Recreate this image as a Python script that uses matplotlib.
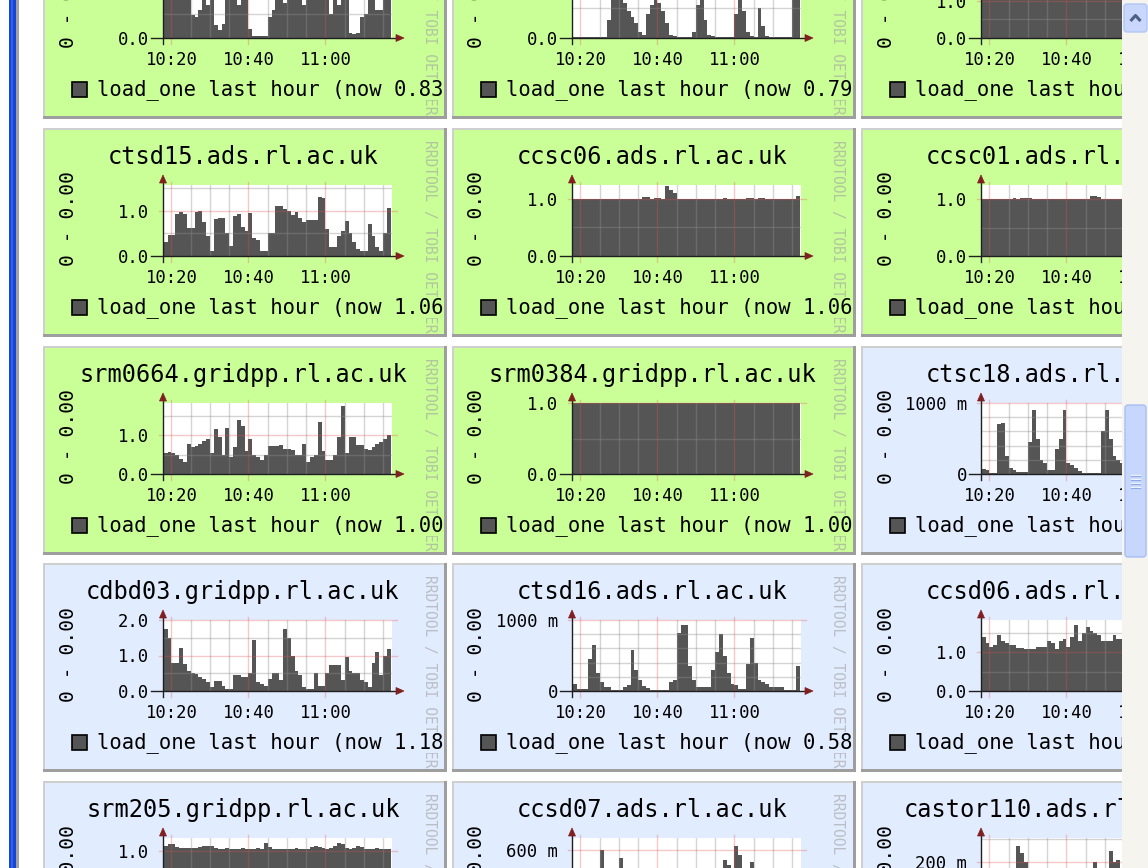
import numpy as np
import matplotlib
matplotlib.use("Agg")
import matplotlib.pyplot as plt
from matplotlib.patches import Rectangle, Polygon, FancyBboxPatch

plt.rcParams['font.family'] = ['DejaVu Sans Mono', 'DejaVu Sans']

# ---------------- data ----------------
minutes = list(range(18, 77))          # sample start times, minutes past 10:00
x_major = [20, 40, 60]
x_major_labels = ["10:20", "10:40", "11:00"]
x_minor = [25, 30, 35, 45, 50, 55, 65, 70, 75]

top_a = [1.20, 1.10,
         1.30, 1.00, 1.20, 1.10, 0.95, 0.49, 0.45, 0.59, 1.10, 0.70,
         1.00, 0.27, 0.17, 0.30, 1.10, 1.30, 1.00, 0.70, 1.20, 1.00,
         0.20, 0.05, 0.04, 0.04, 0.05, 0.45, 0.60, 1.20, 1.00, 0.75,
         1.10, 1.30, 1.00, 1.10, 0.70, 1.10, 1.30, 1.00, 0.95, 1.20,
         1.10, 0.50, 1.00, 0.70, 0.95, 1.20, 0.10, 0.08, 0.10, 0.45,
         0.50, 1.10, 1.20, 0.60, 0.60, 1.20, 1.10]
top_b = [0.02, 0.02,
         0.02, 0.02, 0.02, 0.02, 0.02, 0.02, 0.02, 0.30, 0.90, 0.95,
         0.90, 0.60, 0.45, 0.35, 0.25, 0.10, 0.05, 0.40, 0.55, 0.75,
         0.60, 0.45, 0.25, 0.05, 0.03, 0.02, 0.02, 0.02, 0.02, 0.10,
         0.55, 0.70, 0.30, 0.05, 0.03, 0.02, 0.02, 0.02, 0.02, 0.02,
         0.40, 0.75, 0.45, 0.10, 0.03, 0.02, 0.50, 0.20, 0.03, 0.02,
         0.02, 0.02, 0.02, 0.02, 0.02, 0.80, 0.80]
top_c = [1.20, 1.25,
         1.20, 1.15, 1.20, 1.25, 1.20, 1.18, 1.22, 1.20, 1.15, 1.20,
         1.25, 1.20, 1.18, 1.20, 1.22, 1.20, 1.15, 1.20, 1.25, 1.20,
         1.20, 1.18, 1.20, 1.25, 1.20, 1.15, 1.20, 1.22, 1.20, 1.18,
         1.20, 1.25, 1.20, 1.15, 1.20, 1.22, 1.20, 1.18, 1.20, 1.25,
         1.20, 1.15, 1.20, 1.22, 1.20, 1.18, 1.20, 1.25, 1.20, 1.15,
         1.20, 1.22, 1.20, 1.18, 1.20, 1.25, 1.20]
ctsd15 = [0.30, 0.47,
          0.47, 0.92, 0.97, 0.93, 0.63, 0.63, 0.98, 1.00, 0.75, 0.45,
          0.10, 0.82, 0.83, 0.83, 0.50, 0.22, 0.88, 0.92, 0.65, 0.55,
          0.95, 0.40, 0.35, 0.10, 0.10, 0.50, 0.50, 1.10, 1.10, 1.05,
          1.00, 0.90, 0.97, 0.85, 0.75, 0.80, 0.80, 0.80, 1.30, 1.28,
          0.60, 0.20, 0.20, 0.45, 0.55, 0.78, 0.50, 0.30, 0.15, 0.10,
          0.10, 0.70, 0.45, 0.20, 0.10, 0.50, 1.06]
ccsc06 = [1.00, 1.00,
          1.00, 1.00, 1.00, 1.00, 1.00, 1.00, 1.00, 1.00, 1.00, 1.00,
          1.00, 1.00, 1.00, 1.00, 1.00, 1.00, 1.04, 1.03, 1.00, 1.02,
          1.02, 1.00, 1.22, 1.15, 1.10, 1.00, 1.00, 1.00, 1.00, 1.00,
          1.00, 1.00, 1.00, 1.00, 1.00, 1.00, 1.00, 1.02, 1.00, 1.00,
          1.00, 1.00, 1.00, 1.02, 1.02, 1.00, 1.02, 1.02, 1.00, 1.00,
          1.00, 1.00, 1.00, 1.00, 1.00, 1.00, 1.06]
ccsc01 = [1.00, 1.00,
          1.00, 1.00, 1.00, 1.00, 1.00, 1.00, 1.02, 1.00, 1.02, 1.02,
          1.02, 1.00, 1.00, 1.00, 1.00, 1.00, 1.00, 1.00, 1.00, 1.00,
          1.00, 1.00, 1.00, 1.00, 1.00, 1.00, 1.06, 1.06, 1.04, 1.00,
          1.00, 1.00, 1.00, 1.00, 1.00, 1.00, 1.00, 1.00, 1.00, 1.00,
          1.00, 1.00, 1.02, 1.00, 1.00, 1.00, 1.00, 1.02, 1.00, 1.00,
          1.00, 1.00, 1.00, 1.00, 1.00, 1.00, 1.00]
srm0664 = [0.55, 0.57,
           0.55, 0.50, 0.38, 0.32, 0.78, 0.70, 0.72, 0.78, 0.85, 0.92,
           0.55, 1.17, 0.95, 0.50, 1.20, 0.45, 0.70, 1.40, 1.25, 0.60,
           0.92, 0.50, 0.45, 0.35, 0.50, 0.73, 0.73, 0.73, 0.75, 0.65,
           0.65, 0.62, 0.50, 0.50, 0.78, 0.30, 0.45, 0.50, 1.35, 0.60,
           0.35, 0.35, 0.50, 0.95, 1.75, 0.55, 0.95, 0.95, 0.75, 0.75,
           0.65, 0.62, 0.70, 0.78, 0.82, 0.90, 1.00]
srm0384 = [1.00, 1.00,
           1.00, 1.00, 1.00, 1.00, 1.00, 1.00, 1.00, 1.00, 1.00, 1.00,
           1.00, 1.00, 1.00, 1.00, 1.00, 1.00, 1.00, 1.00, 1.00, 1.00,
           1.00, 1.00, 1.00, 1.00, 1.00, 1.00, 1.00, 1.00, 1.00, 1.00,
           1.00, 1.00, 1.00, 1.00, 1.00, 1.00, 1.00, 1.00, 1.00, 1.00,
           1.00, 1.00, 1.00, 1.00, 1.00, 1.00, 1.00, 1.00, 1.00, 1.00,
           1.00, 1.00, 1.00, 1.00, 1.00, 1.00, 1.00]
ctsc18 = [0.07, 0.05,
          0.02, 0.02, 0.70, 0.72, 0.25, 0.08, 0.05, 0.03, 0.03, 0.03,
          0.45, 0.90, 0.50, 0.20, 0.15, 0.05, 0.05, 0.35, 0.50, 0.90,
          0.15, 0.12, 0.08, 0.04, 0.01, 0.01, 0.01, 0.01, 0.01, 0.60,
          0.90, 0.50, 0.25, 0.20, 0.15, 0.08, 0.05, 0.03, 0.03, 0.40,
          0.85, 0.30, 0.15, 0.08, 0.04, 0.02, 0.02, 0.50, 0.80, 0.30,
          0.15, 0.08, 0.04, 0.02, 0.02, 0.02, 0.30]
cdbd03 = [1.75, 1.50,
          0.80, 0.78, 1.20, 0.75, 0.55, 0.52, 0.48, 0.40, 0.35, 0.25,
          0.12, 0.28, 0.28, 0.15, 0.06, 0.05, 0.45, 0.45, 0.40, 0.40,
          0.50, 1.45, 0.25, 0.20, 0.15, 0.35, 0.50, 0.50, 0.30, 1.75,
          1.50, 1.00, 0.55, 0.45, 0.10, 0.05, 0.05, 0.50, 0.15, 0.15,
          0.50, 0.72, 0.72, 0.72, 0.30, 0.95, 0.55, 0.50, 0.50, 0.30,
          0.25, 0.10, 0.80, 1.10, 0.45, 1.00, 1.18]
ctsd16 = [0.10, 0.03,
          0.03, 0.03, 0.45, 0.65, 0.25, 0.12, 0.05, 0.05, 0.02, 0.02,
          0.02, 0.06, 0.08, 0.58, 0.30, 0.15, 0.07, 0.04, 0.02, 0.02,
          0.01, 0.01, 0.01, 0.12, 0.15, 0.82, 0.93, 0.93, 0.35, 0.15,
          0.05, 0.05, 0.05, 0.05, 0.30, 0.55, 0.80, 0.50, 0.25, 0.10,
          0.08, 0.03, 0.03, 0.38, 0.75, 0.40, 0.15, 0.12, 0.10, 0.05,
          0.05, 0.05, 0.05, 0.01, 0.01, 0.01, 0.35]
ccsd06 = [1.40, 1.25,
          1.15, 1.20, 1.45, 1.30, 1.25, 1.20, 1.18, 1.12, 1.12, 1.10,
          1.10, 1.10, 1.15, 1.15, 1.15, 1.30, 1.25, 1.10, 1.30, 1.35,
          1.15, 1.40, 1.70, 1.30, 1.50, 1.65, 1.55, 1.50, 1.45, 1.30,
          1.30, 1.30, 1.45, 1.35, 1.35, 1.30, 1.28, 1.25, 1.30, 1.25,
          1.20, 1.25, 1.30, 1.20, 1.25, 1.20, 1.30, 1.25, 1.20, 1.25,
          1.30, 1.20, 1.25, 1.30, 1.20, 1.25, 1.30]
srm205 = [1.10, 1.12,
          1.12, 1.08, 1.05, 1.05, 1.06, 1.05, 1.05, 1.08, 1.10, 1.09,
          1.10, 1.05, 1.04, 1.04, 1.05, 1.04, 1.04, 1.04, 1.05, 1.04,
          1.04, 1.04, 1.05, 1.04, 1.14, 1.08, 1.04, 1.04, 1.04, 1.04,
          1.04, 1.04, 1.05, 1.04, 1.04, 1.04, 1.08, 1.10, 1.07, 1.05,
          1.04, 1.05, 1.10, 1.15, 1.12, 1.06, 1.04, 1.05, 1.09, 1.07,
          1.04, 1.04, 1.04, 1.05, 1.04, 1.04, 1.04]
ccsd07 = [0.20, 0.15,
          0.20, 0.25, 0.15, 0.30, 0.20, 0.60, 0.35, 0.20, 0.15, 0.30,
          0.52, 0.20, 0.15, 0.20, 0.25, 0.15, 0.20, 0.15, 0.20, 0.25,
          0.20, 0.15, 0.20, 0.15, 0.25, 0.20, 0.15, 0.20, 0.25, 0.20,
          0.15, 0.20, 0.25, 0.20, 0.15, 0.20, 0.30, 0.50, 0.45, 0.30,
          0.65, 0.55, 0.30, 0.25, 0.48, 0.20, 0.15, 0.20, 0.25, 0.20,
          0.15, 0.20, 0.25, 0.20, 0.15, 0.20, 0.25]
castor110 = [0.10, 0.08,
             0.10, 0.12, 0.08, 0.10, 0.12, 0.10, 0.08, 0.27, 0.24, 0.20,
             0.10, 0.08, 0.10, 0.12, 0.08, 0.10, 0.12, 0.10, 0.08, 0.10,
             0.12, 0.10, 0.08, 0.10, 0.12, 0.10, 0.15, 0.20, 0.10, 0.08,
             0.12, 0.25, 0.20, 0.21, 0.10, 0.08, 0.10, 0.12, 0.10, 0.08,
             0.10, 0.12, 0.10, 0.08, 0.10, 0.12, 0.10, 0.08, 0.10, 0.12,
             0.10, 0.08, 0.10, 0.12, 0.10, 0.08, 0.10]

grid_titles = [["", "", ""],
               ["ctsd15.ads.rl.ac.uk", "ccsc06.ads.rl.ac.uk", "ccsc01.ads.rl.ac.uk"],
               ["srm0664.gridpp.rl.ac.uk", "srm0384.gridpp.rl.ac.uk", "ctsc18.ads.rl.ac.uk"],
               ["cdbd03.gridpp.rl.ac.uk", "ctsd16.ads.rl.ac.uk", "ccsd06.ads.rl.ac.uk"],
               ["srm205.gridpp.rl.ac.uk", "ccsd07.ads.rl.ac.uk", "castor110.ads.rl.ac.uk"]]
grid_values = [[top_a, top_b, top_c],
               [ctsd15, ccsc06, ccsc01],
               [srm0664, srm0384, ctsc18],
               [cdbd03, ctsd16, ccsd06],
               [srm205, ccsd07, castor110]]
grid_now = [["0.83", "0.79", "1.00"],
            ["1.06", "1.06", "1.00"],
            ["1.00", "1.00", "0.30"],
            ["1.18", "0.58", "1.30"],
            ["", "", ""]]
grid_ymax = [[1.5, 1.2, 1.9],
             [1.57, 1.244, 1.25],
             [1.84, 1.0, 1.0],
             [2.0, 1.0, 1.84],
             [1.23, 0.727, 0.304]]
grid_scale = [["std", "std", "std"],
              ["std", "std", "std"],
              ["std", "std", "1000m"],
              ["two", "1000m", "std"],
              ["std", "600m", "200m"]]
grid_bg = [["g", "g", "g"], ["g", "g", "g"], ["g", "g", "b"], ["b", "b", "b"], ["b", "b", "b"]]

y_scales = {"std": ([0.0, 1.0], ["0.0", "1.0"], 0.5),
            "two": ([0.0, 1.0, 2.0], ["0.0", "1.0", "2.0"], 0.5),
            "1000m": ([0.0, 1.0], ["0", "1000 m"], 0.2),
            "600m": ([0.0, 0.6], ["0", "600 m"], 0.2),
            "200m": ([0.0, 0.2], ["0", "200 m"], 0.1)}

legend_label = "load_one last hour (now {}"
y_side_label = "0 - 0.00"
watermark = "RRDTOOL / TOBI OETIKER"

# ---------------- styling ----------------
W, H = 1148, 868
BG = {"g": "#caff98", "b": "#e2ecff"}
FILL = "#555555"
MINOR = (0.56, 0.56, 0.56)
MAJOR = (0.87, 0.31, 0.31)
ARROW = "#801f1f"
AXIS = "#1f1f1f"
col_x = [43, 452, 861]
row_y = [-90, 128, 346, 563, 781]
PW, PH = 404, 209
PL, PT, PWID, PHGT = 120, 57, 229, 71

fig = plt.figure(figsize=(W / 100, H / 100), dpi=100)
fig.patch.set_facecolor("white")
bg = fig.add_axes([0, 0, 1, 1], zorder=0)
bg.set_xlim(0, W)
bg.set_ylim(H, 0)
bg.set_axis_off()

# window edge on the left
bg.add_patch(Rectangle((9, 0), 7, H, color="#1646d6", lw=0))
bg.add_patch(Rectangle((11, 0), 2, H, color="#2f62ee", lw=0))
bg.add_patch(Rectangle((16, 0), 3, H, color="#a2a2a2", lw=0))

t_edges = minutes + [minutes[-1] + 1]

for r in range(5):
    for c in range(3):
        x0, y0 = col_x[c], row_y[r]
        bgc = BG[grid_bg[r][c]]
        bg.add_patch(Rectangle((x0, y0), PW, PH, color="#9e9e9e", lw=0))
        bg.add_patch(Rectangle((x0, y0), PW - 3, PH - 3, color="#cfcfcf", lw=0))
        bg.add_patch(Rectangle((x0 + 2, y0 + 2), PW - 5, PH - 5, color=bgc, lw=0))
        if grid_titles[r][c]:
            bg.text(x0 + 200, y0 + 36, grid_titles[r][c], ha="center", va="baseline",
                    fontsize=17, color="black")
        bg.text(x0 + 25, y0 + 91, y_side_label, rotation=90, ha="center", va="center",
                fontsize=14.2, color="black")
        bg.text(x0 + 386, y0 + 12, watermark, rotation=-90, ha="center", va="top",
                fontsize=10.5, color="#a0a0a0", alpha=0.6)
        bg.add_patch(Rectangle((x0 + 29, y0 + 172), 15, 15, facecolor=FILL,
                               edgecolor="black", lw=1.2))
        if grid_now[r][c]:
            bg.text(x0 + 54, y0 + 185, legend_label.format(grid_now[r][c]), ha="left",
                    va="baseline", fontsize=14.8, color="black",
                    bbox=dict(facecolor=bgc, edgecolor="none", pad=0))

        # plot area
        ymax = grid_ymax[r][c]
        yt, ytl, ystep = y_scales[grid_scale[r][c]]
        ax = fig.add_axes([(x0 + PL) / W, 1 - (y0 + PT + PHGT) / H, PWID / W, PHGT / H],
                          zorder=1)
        ax.set_facecolor("white")
        ax.set_xlim(17.8, 77.3)
        ax.set_ylim(0, ymax)
        vals = grid_values[r][c]
        ax.fill_between(t_edges, 0, vals + [vals[-1]], step="post", facecolor=FILL,
                        linewidth=0, zorder=1)
        for s in ax.spines.values():
            s.set_visible(False)
        if y0 + 150 < H:
            ax.set_xticks(x_major, x_major_labels)
        else:
            ax.set_xticks(x_major, [])
        ax.set_yticks(yt, ytl)
        ax.tick_params(length=0, labelsize=12.4, labelcolor="black")
        ax.xaxis.set_tick_params(pad=9.3)
        ax.yaxis.set_tick_params(pad=10)

        # grid
        for xm in x_minor:
            ax.axvline(xm, color=MINOR, alpha=0.375, lw=1, zorder=2)
        for ym in np.arange(ystep, ymax - 1e-6, ystep):
            if min(abs(ym - v) for v in yt) > 1e-6:
                ax.axhline(ym, color=MINOR, alpha=0.375, lw=1, zorder=2)
        for xM in x_major:
            ax.axvline(xM, ymin=-6 / PHGT, ymax=1 + 3 / PHGT, color=MAJOR, alpha=0.3,
                       lw=1, zorder=2, clip_on=False)
        for yM in yt[1:]:
            ax.axhline(yM, xmin=-4 / PWID, xmax=1 + 5 / PWID, color=MAJOR, alpha=0.3,
                       lw=1, zorder=2, clip_on=False)

        # axes with arrows
        ax.plot([-12 / PWID, 1 + 4 / PWID], [0, 0], transform=ax.transAxes,
                color=AXIS, lw=1, clip_on=False, zorder=3)
        ax.plot([0, 0], [-6 / PHGT, 1 + 2 / PHGT], transform=ax.transAxes,
                color=AXIS, lw=1, clip_on=False, zorder=3)
        ax.add_patch(Polygon([(1 + 4 / PWID, 3.5 / PHGT), (1 + 12 / PWID, 0),
                              (1 + 4 / PWID, -3.5 / PHGT)], closed=True,
                             transform=ax.transAxes, facecolor=ARROW, edgecolor=ARROW,
                             lw=0.5, clip_on=False, zorder=3))
        ax.add_patch(Polygon([(-3.5 / PWID, 1 + 2 / PHGT), (0, 1 + 10 / PHGT),
                              (3.5 / PWID, 1 + 2 / PHGT)], closed=True,
                             transform=ax.transAxes, facecolor=ARROW, edgecolor=ARROW,
                             lw=0.5, clip_on=False, zorder=3))

# scrollbar overlay
ov = fig.add_axes([0, 0, 1, 1], zorder=10)
ov.set_xlim(0, W)
ov.set_ylim(H, 0)
ov.set_axis_off()
ov.patch.set_alpha(0)
ov.add_patch(Rectangle((1122, 0), 26, H, color="#f5f4ef", lw=0))
ov.add_patch(FancyBboxPatch((1125, 405), 21, 152, boxstyle="round,pad=0,rounding_size=3",
                            facecolor="#c6d6fc", edgecolor="#a9bff2", lw=1))
for yy in [475, 479, 483, 487]:
    ov.plot([1131, 1140], [yy, yy], color="#f2f6ff", lw=1)
    ov.plot([1131, 1140], [yy + 1.3, yy + 1.3], color="#8fa9e6", lw=0.8)
ov.add_patch(FancyBboxPatch((1124, 4), 23, 28, boxstyle="round,pad=0,rounding_size=3",
                            facecolor="#c8d7fb", edgecolor="#b2c5f4", lw=1))
ov.plot([1130.5, 1135.5, 1140.5], [21, 15.5, 21], color="#4d6185", lw=2.2,
        solid_capstyle="butt")

fig.savefig("out.png", dpi=100, facecolor="white")
